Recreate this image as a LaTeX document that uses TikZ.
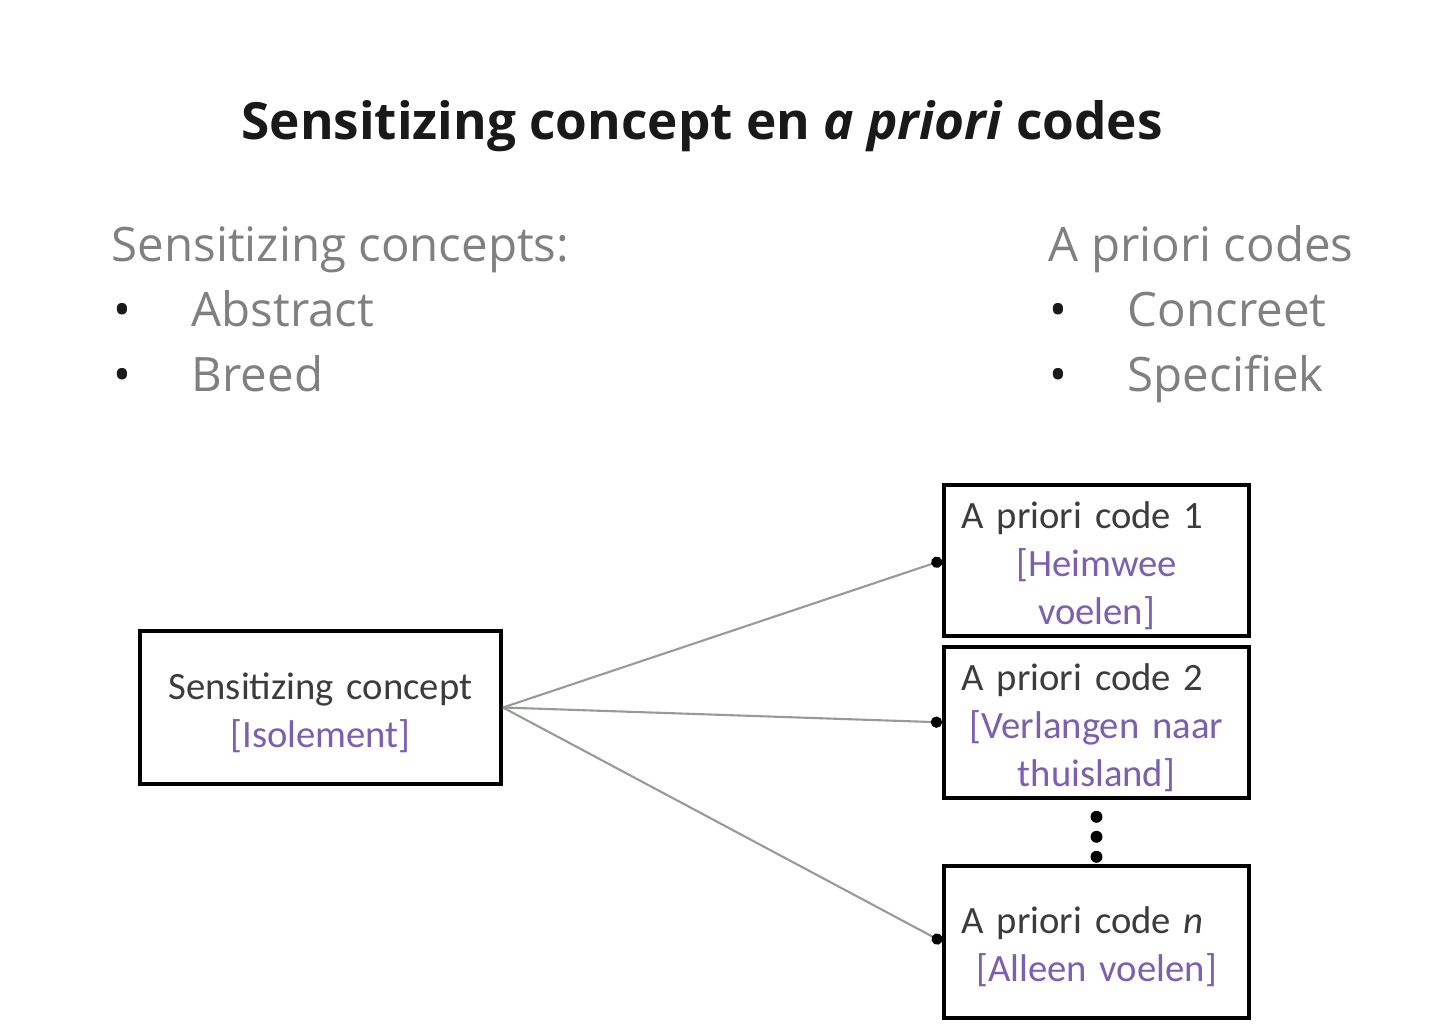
\documentclass[tikz,border=0pt]{standalone}
\usepackage{fontspec}
\setmainfont{Open Sans}
\newfontfamily\boxfont{Carlito}
\definecolor{titleblack}{RGB}{25, 25, 25}
\definecolor{listgray}{RGB}{128, 128, 128}
\definecolor{boxtext}{RGB}{60, 60, 60}
\definecolor{codepurple}{RGB}{125, 95, 175}
\definecolor{linkgray}{RGB}{150, 155, 150}
\newcommand{\toppad}{\rule{0pt}{10.6pt}}
\usepackage{tikz}
\usetikzlibrary{arrows.meta, positioning}

\begin{document}
\begin{tikzpicture}[
  listtext/.style={font=\fontsize{13.5}{16}\selectfont, listgray, anchor=base west, inner sep=0pt},
  bullet/.style={font=\fontsize{13.5}{16}\selectfont, titleblack, anchor=base, inner sep=0pt},
  codebox/.style={draw=black, line width=1.1pt, fill=white, minimum width=3.05cm, minimum height=1.51cm,
    text width=2.7cm, align=center, font=\boxfont\fontsize{11}{13.6}\selectfont, text=boxtext, inner sep=0pt},
  link/.style={linkgray, line width=0.6pt, -{Circle[length=3.2pt, black]}},
  dotline/.style={line width=3.4pt, line cap=round, dash pattern=on 0pt off 0.2cm, dash phase=0.03cm},
]
\useasboundingbox (0,0) rectangle (14.4,10.36);

% Title
\node[font=\fontsize{14.6}{17}\selectfont\bfseries, titleblack] (title) at (7.02,9.10)
  {Sensitizing concept en \textit{a priori} codes};

% Left list
\node[listtext] (sclabel) at (1.11,7.74) {Sensitizing concepts:};
\node[bullet] (b1) at (1.22,7.09) {•};
\node[listtext] (abstract) at (1.91,7.09) {Abstract};
\node[bullet] (b2) at (1.22,6.44) {•};
\node[listtext] (breed) at (1.91,6.44) {Breed};

% Right list
\node[listtext] (aplabel) at (10.48,7.74) {A priori codes};
\node[bullet] (b3) at (10.58,7.09) {•};
\node[listtext] (concreet) at (11.27,7.09) {Concreet};
\node[bullet] (b4) at (10.58,6.44) {•};
\node[listtext] (specifiek) at (11.27,6.44) {Specifiek};

% Sensitizing concept box
\node[codebox, minimum width=3.61cm, minimum height=1.53cm, text width=3.3cm] (concept) at (3.205,3.285)
  {\toppad Sensitizing concept\\ \textcolor{codepurple}{[Isolement]}};

% A priori code boxes
\node[codebox] (c1) at (10.965,4.755)
  {\toppad\makebox[\linewidth][l]{A priori code 1}\\ \color{codepurple}[Heimwee\\ voelen]};
\node[codebox, below=0.07cm of c1] (c2)
  {\toppad\makebox[\linewidth][l]{A priori code 2}\\ \color{codepurple}[Verlangen naar\\ thuisland]};
\node[codebox, below=0.64cm of c2, minimum height=1.52cm] (cn)
  {\toppad\makebox[\linewidth][l]{A priori code \textit{n}}\\ \color{codepurple}[Alleen voelen]};

% Links
\draw[link] (concept.east) -- (c1.west);
\draw[link] (concept.east) -- (c2.west);
\draw[link] (concept.east) -- (cn.west);
\draw[dotline] (c2.south) -- (cn.north);
\end{tikzpicture}
\end{document}
